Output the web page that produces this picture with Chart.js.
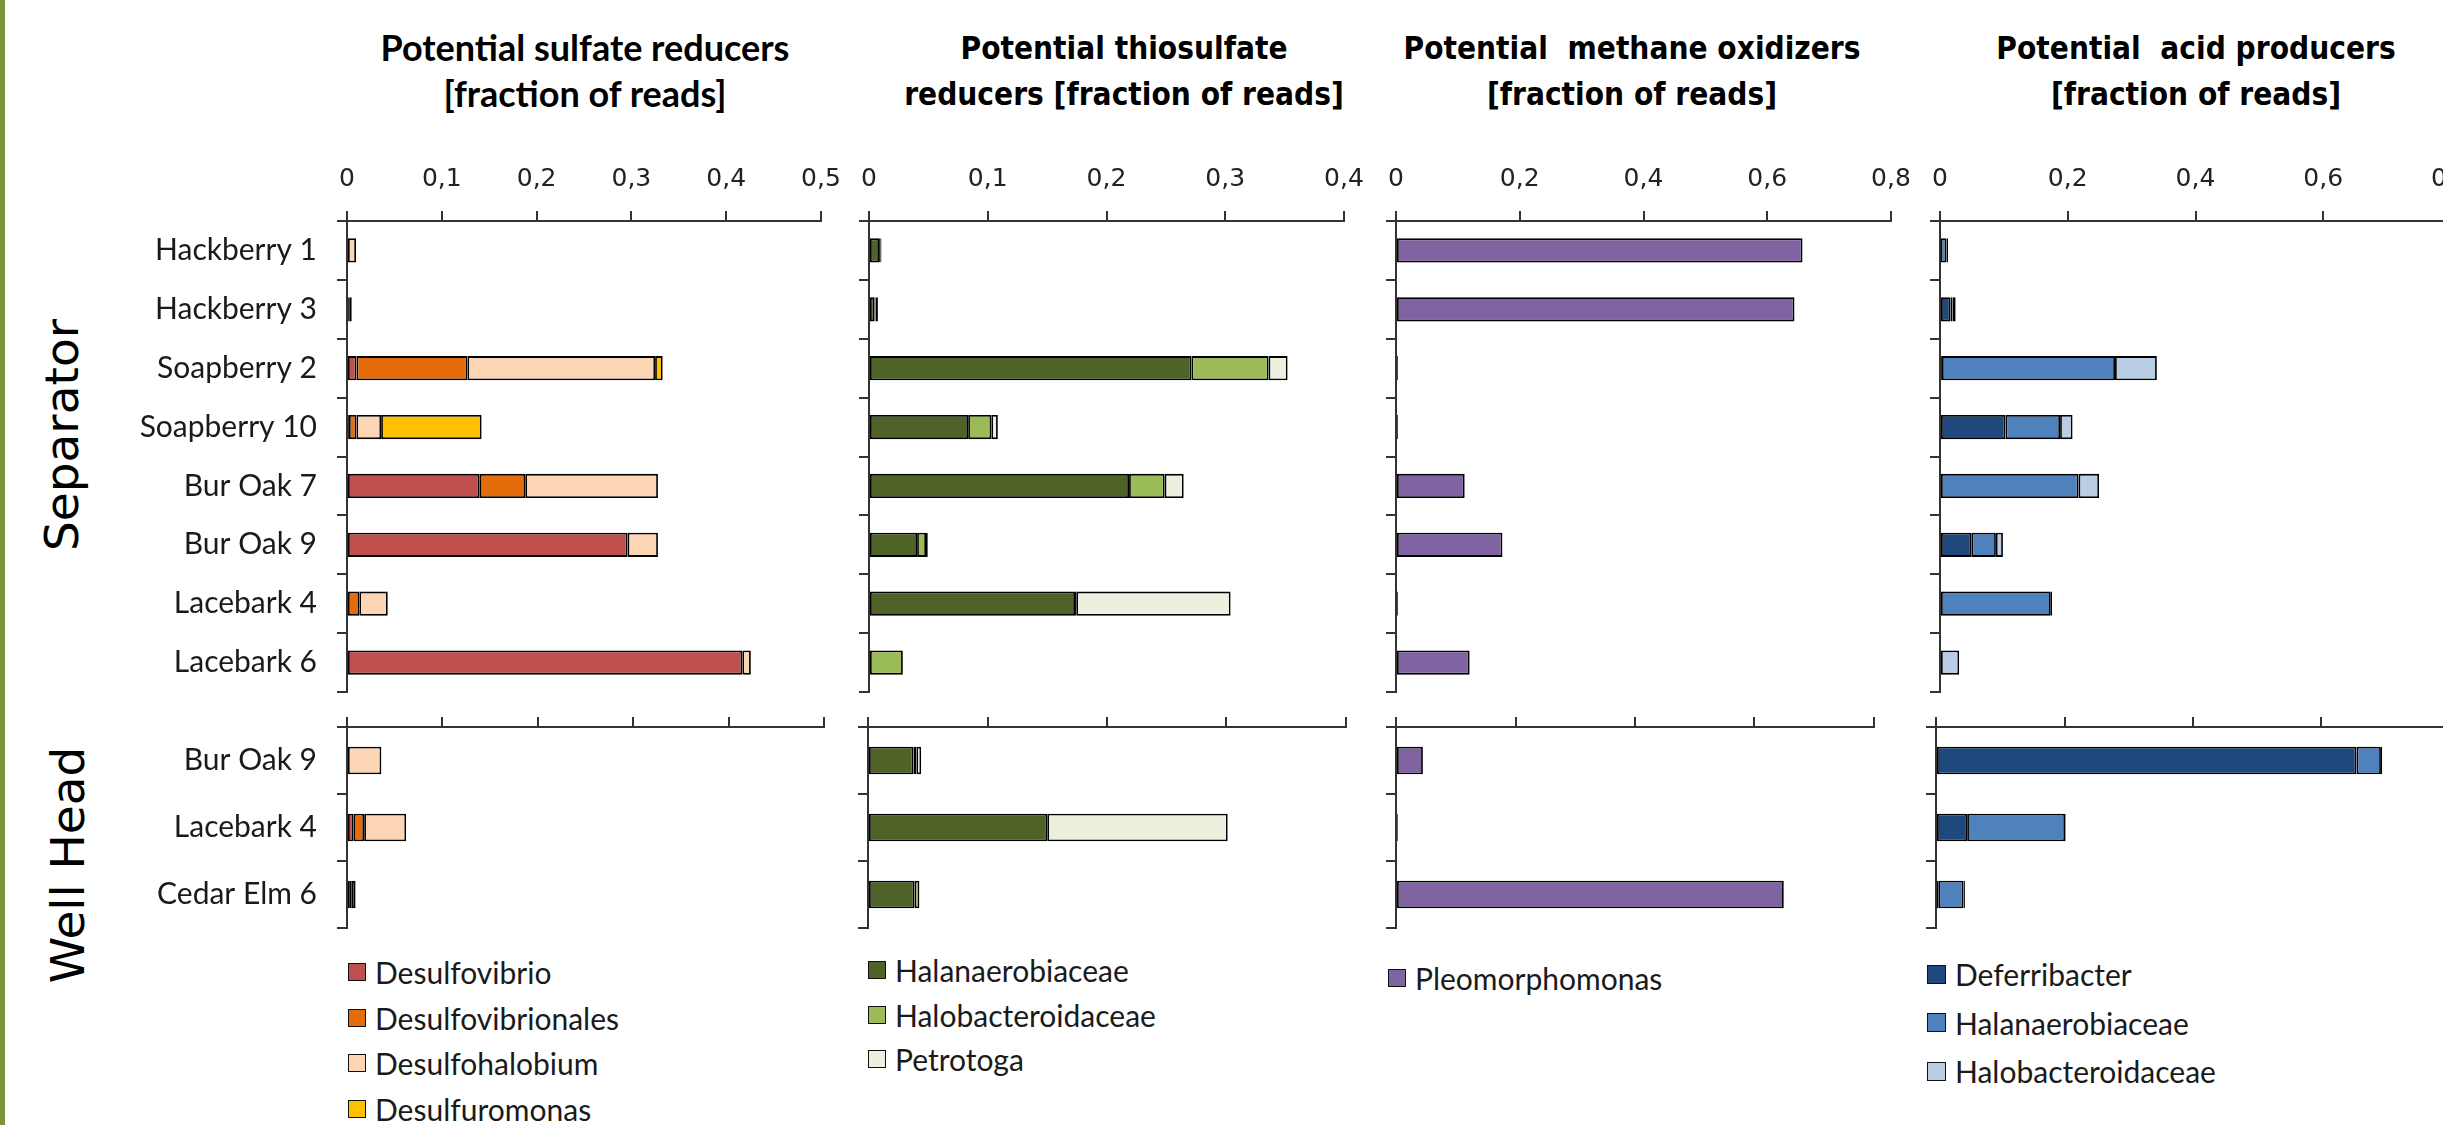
<!DOCTYPE html>
<html>
<head>
<meta charset="utf-8">
<title>Potential functional groups by sample</title>
<script src="https://cdn.jsdelivr.net/npm/chart.js@4.4.1/dist/chart.umd.min.js"></script>
<style>
  html, body { margin: 0; padding: 0; background: #fff; }
  body { width: 2443px; height: 1125px; overflow: hidden; position: relative; }
  canvas { position: absolute; }
  .edge { position: absolute; left: 0; top: 0; width: 5px; height: 1125px; background: #77933c; }
  .title { position: absolute; width: 800px; text-align: center; white-space: pre; color: #000; line-height: 46px; }
  .title.calibri { font: 700 36px Lato, sans-serif; line-height: 46px; }
  .title.verdana { font: 700 32px 'DejaVu Sans', sans-serif; line-height: 46px; transform: scaleX(0.88); }
  .group { position: absolute; font: 47px 'DejaVu Sans', sans-serif; color: #000; white-space: nowrap;
           transform: translate(-50%, -50%) rotate(-90deg); }
  .legend-item { position: absolute; height: 40px; display: flex; align-items: center;
                 font: 30px Lato, sans-serif; color: #1a1a1a; white-space: nowrap; }
  .swatch { box-sizing: border-box; border: 1.8px solid #111; margin-right: 9px; }
</style>
</head>
<body>
<div class="edge"></div>
<script>
// ---- samples ----
const separatorSites = ['Hackberry 1', 'Hackberry 3', 'Soapberry 2', 'Soapberry 10', 'Bur Oak 7', 'Bur Oak 9', 'Lacebark 4', 'Lacebark 6'];
const wellHeadSites = ['Bur Oak 9', 'Lacebark 4', 'Cedar Elm 6'];

// ---- potential sulfate reducers (fraction of reads) ----
const sulfateTaxa = ['Desulfovibrio', 'Desulfovibrionales', 'Desulfohalobium', 'Desulfuromonas'];
const sulfateSeparator = [
  [0, 0.002, 0.010, 0.002, 0.140, 0.296, 0.001, 0.417],
  [0, 0.001, 0.117, 0.008, 0.048, 0, 0.012, 0],
  [0.0095, 0.002, 0.198, 0.026, 0.140, 0.032, 0.030, 0.009],
  [0, 0, 0.008, 0.106, 0, 0, 0, 0]
];
const sulfateWellHead = [
  [0.001, 0.007, 0.003],
  [0, 0.011, 0],
  [0.035, 0.044, 0.002],
  [0, 0, 0.004]
];
const sulfateTicks = [0, 0.1, 0.2, 0.3, 0.4, 0.5];
const sulfateTickLabels = ['0', '0,1', '0,2', '0,3', '0,4', '0,5'];

// ---- potential thiosulfate reducers ----
const thioTaxa = ['Halanaerobiaceae', 'Halobacteroidaceae', 'Petrotoga'];
const thioSeparator = [
  [0.0085, 0.0045, 0.2715, 0.0835, 0.219, 0.0405, 0.1735, 0],
  [0.001, 0.001, 0.065, 0.0195, 0.030, 0.0075, 0.001, 0.0285],
  [0.001, 0.002, 0.016, 0.0055, 0.016, 0.0015, 0.130, 0]
];
const thioWellHead = [
  [0.038, 0.150, 0.039],
  [0.0025, 0, 0.004],
  [0.004, 0.151, 0]
];
const thioTicks = [0, 0.1, 0.2, 0.3, 0.4];
const thioTickLabels = ['0', '0,1', '0,2', '0,3', '0,4'];

// ---- potential methane oxidizers ----
const methaneTaxa = ['Pleomorphomonas'];
const methaneSeparator = [
  [0.657, 0.644, 0.003, 0.003, 0.111, 0.172, 0.003, 0.119]
];
const methaneWellHead = [
  [0.045, 0.003, 0.649]
];
const methaneTicks = [0, 0.2, 0.4, 0.6, 0.8];
const methaneTickLabels = ['0', '0,2', '0,4', '0,6', '0,8'];

// ---- potential acid producers ----
const acidTaxa = ['Deferribacter', 'Halanaerobiaceae', 'Halobacteroidaceae'];
const acidSeparator = [
  [0.001, 0.0165, 0.003, 0.1025, 0, 0.049, 0, 0],
  [0.009, 0.003, 0.271, 0.0855, 0.217, 0.0385, 0.1735, 0],
  [0.0025, 0.005, 0.0655, 0.0195, 0.032, 0.011, 0.002, 0.030]
];
const acidWellHead = [
  [0.6545, 0.0485, 0.0035],
  [0.038, 0.1525, 0.0395],
  [0.002, 0.001, 0.002]
];
const acidTicks = [0, 0.2, 0.4, 0.6, 0.8];
const acidTickLabels = ['0', '0,2', '0,4', '0,6', '0,8'];

// ---- panel titles ----
const panelTitles = [
  ['Potential sulfate reducers', '[fraction of reads]'],
  ['Potential thiosulfate', 'reducers [fraction of reads]'],
  ['Potential  methane oxidizers', '[fraction of reads]'],
  ['Potential  acid producers', '[fraction of reads]']
];
const groupNames = ['Separator', 'Well Head'];

// ---- colours ----
const sulfateColors = ['#c0504d', '#e46c0a', '#fcd5b5', '#ffc000'];
const thioColors = ['#4f6228', '#9bbb59', '#ebf1de'];
const methaneColors = ['#8064a2'];
const acidColors = ['#1f497d', '#4f81bd', '#b9cde5'];

const AXIS = '#333';
const SEP = { top: 221, bottom: 692 };
const WELL = { top: 727, bottom: 928 };

function addChart(o) {
  const padR = 40, padB = 6;
  const w = o.labelSpace + (o.right - o.left) + padR;
  const h = o.axisSpace + (o.bottom - o.top) + padB;
  const cv = document.createElement('canvas');
  cv.width = w; cv.height = h;
  cv.style.width = w + 'px'; cv.style.height = h + 'px';
  cv.style.left = (o.left - o.labelSpace) + 'px';
  cv.style.top = (o.top - o.axisSpace) + 'px';
  document.body.appendChild(cv);

  new Chart(cv, {
    type: 'bar',
    data: {
      labels: o.sites,
      datasets: o.series.map((d, i) => ({
        label: o.names[i],
        data: d,
        backgroundColor: o.colors[i],
        borderColor: '#000',
        borderWidth: 1.8,
        borderSkipped: false,
        barPercentage: 0.41,
        categoryPercentage: 1
      }))
    },
    options: {
      indexAxis: 'y',
      responsive: false,
      animation: false,
      devicePixelRatio: 1,
      layout: { padding: { left: 0, top: 0, right: padR, bottom: padB } },
      plugins: { legend: { display: false }, tooltip: { enabled: false }, title: { display: false } },
      scales: {
        x: {
          type: 'linear', position: 'top', stacked: true,
          min: 0, max: o.ticks[o.ticks.length - 1],
          afterBuildTicks: s => { s.ticks = o.ticks.map(v => ({ value: v })); },
          afterFit: s => { s.height = o.axisSpace; s.paddingLeft = 0; s.paddingRight = 0; s.paddingTop = 0; s.paddingBottom = 0; },
          ticks: {
            display: o.showValues, autoSkip: false, maxRotation: 0, minRotation: 0,
            callback: (v, i) => o.tickLabels[i],
            font: { family: 'DejaVu Sans', size: 25 }, color: '#222', padding: 17
          },
          grid: { drawOnChartArea: false, drawTicks: true, tickLength: 10, color: AXIS, lineWidth: 2 },
          border: { display: true, color: AXIS, width: 2 }
        },
        y: {
          type: 'category', position: 'left', stacked: true, offset: true,
          afterFit: s => { s.width = o.labelSpace; s.paddingLeft = 0; s.paddingRight = 0; s.paddingTop = 0; s.paddingBottom = 0; },
          ticks: {
            display: o.showSites, autoSkip: false,
            font: { family: 'Lato', size: 30 }, color: '#1a1a1a', padding: 20
          },
          grid: { drawOnChartArea: false, drawTicks: true, tickLength: 10, offset: true, color: AXIS, lineWidth: 2 },
          border: { display: true, color: AXIS, width: 2 }
        }
      }
    }
  });
}

function addLegend(names, colors, x, y0, step, size) {
  names.forEach((n, i) => {
    const item = document.createElement('div');
    item.className = 'legend-item';
    item.style.left = x + 'px';
    item.style.top = (y0 + i * step - 20) + 'px';
    const sw = document.createElement('span');
    sw.className = 'swatch';
    sw.style.width = size + 'px';
    sw.style.height = size + 'px';
    sw.style.background = colors[i];
    item.appendChild(sw);
    item.appendChild(document.createTextNode(n));
    document.body.appendChild(item);
  });
}

function addTitle(lines, cx, cls, top) {
  const t = document.createElement('div');
  t.className = 'title ' + cls;
  t.style.left = (cx - 400) + 'px';
  t.style.top = top + 'px';
  t.textContent = lines.join('\n');
  document.body.appendChild(t);
}

// panels: sulfate, thiosulfate, methane, acid
const panels = [
  { series: [sulfateSeparator, sulfateWellHead], names: sulfateTaxa, colors: sulfateColors,
    ticks: sulfateTicks, tickLabels: sulfateTickLabels,
    sep: [347, 821], well: [347, 824], labelSpace: 235,
    title: { cx: 585, cls: 'calibri', top: 24 },
    legend: { x: 348, y: 972, step: 45.5, size: 18 } },
  { series: [thioSeparator, thioWellHead], names: thioTaxa, colors: thioColors,
    ticks: thioTicks, tickLabels: thioTickLabels,
    sep: [869, 1344], well: [868, 1346], labelSpace: 24,
    title: { cx: 1124, cls: 'verdana', top: 24.6 },
    legend: { x: 868, y: 970, step: 44.5, size: 18 } },
  { series: [methaneSeparator, methaneWellHead], names: methaneTaxa, colors: methaneColors,
    ticks: methaneTicks, tickLabels: methaneTickLabels,
    sep: [1396, 1891], well: [1396, 1874], labelSpace: 24,
    title: { cx: 1632, cls: 'verdana', top: 24.6 },
    legend: { x: 1388, y: 978, step: 45, size: 18 } },
  { series: [acidSeparator, acidWellHead], names: acidTaxa, colors: acidColors,
    ticks: acidTicks, tickLabels: acidTickLabels,
    sep: [1940, 2451], well: [1936, 2450], labelSpace: 24,
    title: { cx: 2196, cls: 'verdana', top: 24.6 },
    legend: { x: 1927, y: 974, step: 48.5, size: 19 } }
];

panels.forEach((p, k) => {
  addChart({
    sites: separatorSites, series: p.series[0], names: p.names, colors: p.colors,
    ticks: p.ticks, tickLabels: p.tickLabels, showValues: true, showSites: k === 0,
    left: p.sep[0], right: p.sep[1], top: SEP.top, bottom: SEP.bottom,
    labelSpace: p.labelSpace, axisSpace: 80
  });
  addChart({
    sites: wellHeadSites, series: p.series[1], names: p.names, colors: p.colors,
    ticks: p.ticks, tickLabels: p.tickLabels, showValues: false, showSites: k === 0,
    left: p.well[0], right: p.well[1], top: WELL.top, bottom: WELL.bottom,
    labelSpace: p.labelSpace, axisSpace: 14
  });
  addTitle(panelTitles[k], p.title.cx, p.title.cls, p.title.top);
  addLegend(p.names, p.colors, p.legend.x, p.legend.y, p.legend.step, p.legend.size);
});

// group labels along the left edge
[[groupNames[0], 61, 435], [groupNames[1], 67, 865]].forEach(([txt, cx, cy]) => {
  const g = document.createElement('div');
  g.className = 'group';
  g.style.left = cx + 'px';
  g.style.top = cy + 'px';
  g.textContent = txt;
  document.body.appendChild(g);
});
</script>
</body>
</html>
